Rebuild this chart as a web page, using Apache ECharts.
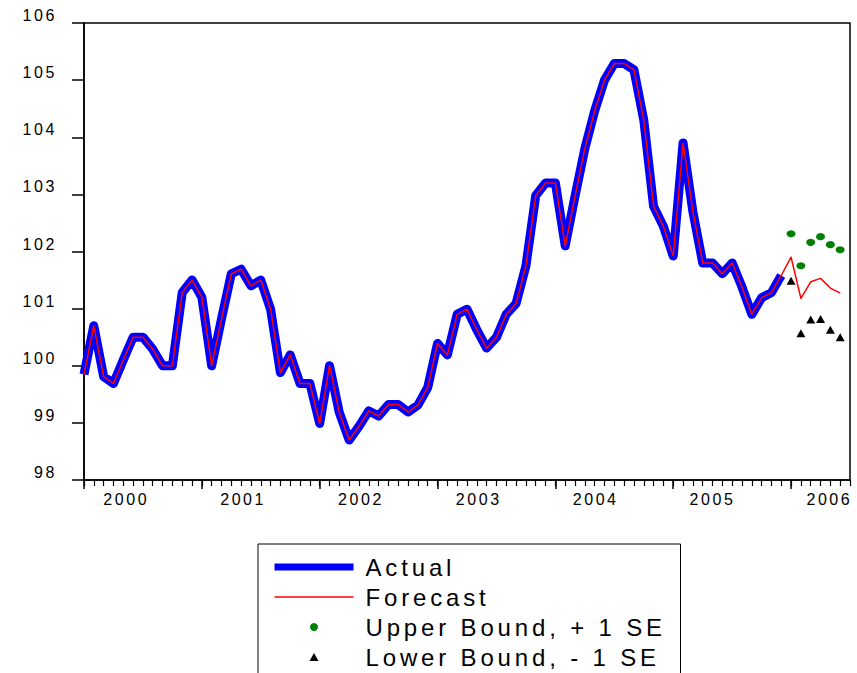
<!DOCTYPE html>
<html>
<head>
<meta charset="utf-8">
<script src="https://cdn.jsdelivr.net/npm/echarts@6/dist/echarts.min.js"></script>
<style>
  html, body { margin: 0; padding: 0; background: #ffffff; }
  #chart { width: 857px; height: 673px; }
  /* widely tracked lettering, as in the original statistics package output */
  #chart svg text { letter-spacing: 0.16em; }
</style>
</head>
<body>
<div id="chart"></div>
<script>
// Monthly observations, index 0 = first month of the sample
const actual = [
  99.85, 100.70, 99.81, 99.69, 100.10, 100.50, 100.50, 100.29, 100.00, 100.00, 101.28, 101.50,
  101.20, 100.00, 100.82, 101.61, 101.69, 101.40, 101.50, 100.99, 99.88, 100.19, 99.69, 99.69,
  98.99, 100.00, 99.18, 98.70, 98.94, 99.21, 99.12, 99.32, 99.32, 99.19, 99.31, 99.62,
  100.39, 100.19, 100.90, 100.99, 100.63, 100.31, 100.50, 100.90, 101.09, 101.75, 102.98, 103.20,
  103.20, 102.10, 102.97, 103.80, 104.46, 105.00, 105.29, 105.29, 105.18, 104.30, 102.79, 102.44,
  101.92, 103.90, 102.70, 101.80, 101.80, 101.61, 101.80, 101.38, 100.90, 101.19, 101.28, 101.58
];
// Out-of-sample forecast and its +/- 1 standard error bounds (six months ahead)
const forecastAhead = [101.90, 101.18, 101.47, 101.53, 101.36, 101.27];
const upperBound = [102.31, 101.75, 102.16, 102.26, 102.12, 102.03];
const lowerBound = [101.49, 100.57, 100.81, 100.82, 100.63, 100.50];

// Axis layout (positions in months from the start of the sample)
const yearLabels = ['2000', '2001', '2002', '2003', '2004', '2005', '2006'];
const yearLabelAt = [4.3, 16.2, 28.2, 40.2, 52.1, 64.0, 75.9];
const yearTickAt = [0, 12, 24, 36, 48, 60, 72];
const monthMax = 78;
const yMin = 98, yMax = 106, yStep = 1;

// In-sample the forecast series carries the actual values
const forecast = actual.concat(forecastAhead);
const aheadStart = actual.length;

const actualData = actual.map((v, i) => [i, v]);
const forecastData = forecast.map((v, i) => [i, v]);
const upperData = upperBound.map((v, i) => [aheadStart + i, v]);
const lowerData = lowerBound.map((v, i) => [aheadStart + i, v]);

const FONT = "'Liberation Sans', Arial, sans-serif";
// small triangle marker for the legend, scaled with its aspect ratio kept
const TRIANGLE_ICON = 'path://M5,0L10,9L0,9Z';

const chart = echarts.init(document.getElementById('chart'), null, { renderer: 'svg' });
chart.setOption({
  animation: false,
  backgroundColor: '#ffffff',
  grid: {
    left: 84, right: 7, top: 23, bottom: 193,
    show: true, borderColor: '#000000', borderWidth: 1.5, backgroundColor: 'transparent'
  },
  xAxis: [
    {
      // monthly minor ticks
      type: 'value', min: 0, max: monthMax, interval: 1, position: 'bottom',
      axisLine: { show: true, lineStyle: { color: '#000000', width: 1.5 } },
      axisTick: { show: true, inside: false, length: 6, lineStyle: { color: '#000000', width: 1.2 } },
      axisLabel: { show: false },
      splitLine: { show: false }
    },
    {
      // year ticks and year labels
      type: 'value', min: 0, max: monthMax, position: 'bottom',
      axisLine: { show: false },
      axisTick: { show: true, inside: false, length: 9, customValues: yearTickAt,
                  lineStyle: { color: '#000000', width: 1.5 } },
      axisLabel: {
        show: true, customValues: yearLabelAt, margin: 11,
        fontFamily: FONT, fontSize: 16, lineHeight: 16, color: '#000000',
        formatter: (v) => yearLabels[yearLabelAt.indexOf(v)] || ''
      },
      splitLine: { show: false }
    }
  ],
  yAxis: {
    type: 'value', min: yMin, max: yMax, interval: yStep,
    axisLine: { show: true, lineStyle: { color: '#000000', width: 1.5 } },
    axisTick: { show: true, inside: false, length: 12, lineStyle: { color: '#000000', width: 1.5 } },
    axisLabel: {
      margin: 27, fontFamily: FONT, fontSize: 16, color: '#000000',
      verticalAlign: 'bottom', lineHeight: 15
    },
    splitLine: { show: false }
  },
  legend: {
    left: 258, top: 544, height: 160, orient: 'vertical',
    padding: [8, 2, 8, 13],
    itemWidth: 79, itemHeight: 8, itemGap: 0,
    symbolKeepAspect: true,
    borderColor: '#000000', borderWidth: 1, backgroundColor: '#ffffff',
    selectedMode: false,
    textStyle: { fontFamily: FONT, fontSize: 24, color: '#000000', lineHeight: 30,
                 padding: [0, 0, 0, 7], width: 313 },
    data: [
      { name: 'Actual', lineStyle: { width: 7 }, itemStyle: { opacity: 0 } },
      { name: 'Forecast', lineStyle: { width: 1.5 }, itemStyle: { opacity: 0 } },
      { name: 'Upper Bound, + 1 SE' },
      { name: 'Lower Bound, - 1 SE', icon: TRIANGLE_ICON, itemStyle: { color: '#000000' } }
    ]
  },
  series: [
    {
      name: 'Actual', type: 'line', xAxisIndex: 0, data: actualData,
      symbol: 'none', showSymbol: false, z: 2,
      itemStyle: { color: '#0000ff' },
      lineStyle: { color: '#0000ff', width: 9, join: 'round', cap: 'butt' }
    },
    {
      name: 'Forecast', type: 'line', xAxisIndex: 0, data: forecastData,
      symbol: 'none', showSymbol: false, z: 3,
      itemStyle: { color: '#ff0000' },
      lineStyle: { color: '#ff0000', width: 1.5, join: 'round' }
    },
    {
      name: 'Upper Bound, + 1 SE', type: 'scatter', xAxisIndex: 0, data: upperData,
      symbol: 'circle', symbolSize: [9, 7], z: 4,
      itemStyle: { color: '#008000', opacity: 1 }
    },
    {
      name: 'Lower Bound, - 1 SE', type: 'scatter', xAxisIndex: 0, data: lowerData,
      symbol: 'triangle', symbolSize: [9, 8], z: 4,
      itemStyle: { color: '#000000', opacity: 1 }
    }
  ]
});
</script>
</body>
</html>
